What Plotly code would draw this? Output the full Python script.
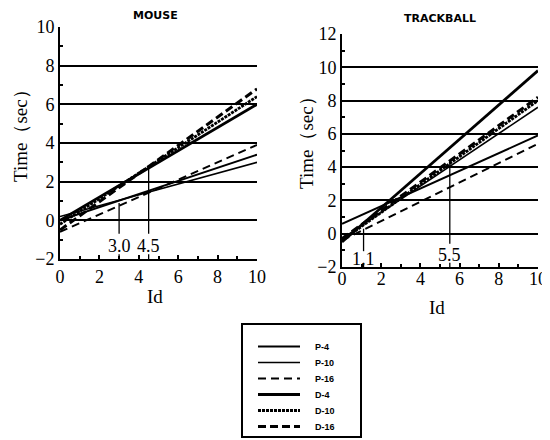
import plotly.graph_objects as go

# ---------------- data ----------------
id_ends = [0, 10]
series_names = ["P-4", "P-10", "P-16", "D-4", "D-10", "D-16"]

# time (sec) at Id = 0 and Id = 10
mouse_p4 = [0.0, 3.4]
mouse_p10 = [0.2, 3.0]
mouse_p16 = [-0.6, 3.9]
mouse_d4 = [0.0, 6.0]
mouse_d10 = [-0.2, 6.4]
mouse_d16 = [-0.5, 6.8]

track_p4 = [0.6, 5.9]
track_p10 = [-0.3, 7.6]
track_p16 = [-0.4, 5.4]
track_d4 = [-0.5, 9.8]
track_d10 = [-0.4, 8.0]
track_d16 = [-0.3, 8.2]

# intersection markers
mouse_mark_x = [3.0, 4.5]
mouse_mark_top = [0.9, 2.7]
mouse_mark_bottom = [-0.7, -0.7]
mouse_mark_label_y = [-1.35, -1.35]
mouse_mark_text = ["3.0", "4.5"]

track_mark_x = [1.1, 5.5]
track_mark_top = [0.3, 4.4]
track_mark_bottom = [-1.05, -0.6]
track_mark_label_y = [-1.5, -1.3]
track_mark_text = ["1.1", "5.5"]

mouse_ticks = [-2, 0, 2, 4, 6, 8, 10]
track_ticks = [-2, 0, 2, 4, 6, 8, 10, 12]
x_ticks = [0, 2, 4, 6, 8, 10]

# ---------------- styles ----------------
styles = {
    "P-4": dict(color="black", width=2.0, dash="solid"),
    "P-10": dict(color="black", width=1.6, dash="solid"),
    "P-16": dict(color="black", width=2.0, dash="8px,5px"),
    "D-4": dict(color="black", width=2.8, dash="solid"),
    "D-10": dict(color="black", width=2.8, dash="3px,1px"),
    "D-16": dict(color="black", width=3.0, dash="8px,4px"),
}

# the page body has an 8px margin; size the figure so it fits the window
PAGE_OFF = 8
W, H = 550 - PAGE_OFF, 440 - PAGE_OFF


def px_x(v):
    return (v - PAGE_OFF) / W


def px_y(v):
    return 1 - (v - PAGE_OFF) / H


mouse_series = [mouse_p4, mouse_p10, mouse_p16, mouse_d4, mouse_d10, mouse_d16]
track_series = [track_p4, track_p10, track_p16, track_d4, track_d10, track_d16]

fig = go.Figure()

for name, ys in zip(series_names, mouse_series):
    fig.add_trace(go.Scatter(x=id_ends, y=ys, mode="lines", name=name,
                             line=styles[name], xaxis="x", yaxis="y",
                             showlegend=False))
for name, ys in zip(series_names, track_series):
    fig.add_trace(go.Scatter(x=id_ends, y=ys, mode="lines", name=name,
                             line=styles[name], xaxis="x2", yaxis="y2",
                             showlegend=False))


def marker_trace(xs, tops, bottoms, xa, ya):
    px, py = [], []
    for x, t, b in zip(xs, tops, bottoms):
        px += [x, x, None, x, x, None]
        py += [t, b, None, -2.0, -1.75, None]
    return go.Scatter(x=px, y=py, mode="lines", line=dict(color="black", width=1.3),
                      xaxis=xa, yaxis=ya, showlegend=False, hoverinfo="skip")


fig.add_trace(marker_trace(mouse_mark_x, mouse_mark_top, mouse_mark_bottom, "x", "y"))
fig.add_trace(marker_trace(track_mark_x, track_mark_top, track_mark_bottom, "x2", "y2"))

serif = "Liberation Serif"
annotations = []
for x, y, t in zip(mouse_mark_x, mouse_mark_label_y, mouse_mark_text):
    annotations.append(dict(x=x, y=y, xref="x", yref="y", text=t, showarrow=False,
                            xanchor="center", yanchor="middle",
                            font=dict(family=serif, size=18, color="black")))
for x, y, t in zip(track_mark_x, track_mark_label_y, track_mark_text):
    annotations.append(dict(x=x, y=y, xref="x2", yref="y2", text=t, showarrow=False,
                            xanchor="center", yanchor="middle",
                            font=dict(family=serif, size=18, color="black")))


def paper_text(xp, yp, text, size, family, angle=0):
    return dict(x=px_x(xp), y=px_y(yp), xref="paper", yref="paper", text=text,
                showarrow=False, xanchor="center", yanchor="middle",
                textangle=angle, font=dict(family=family, size=size, color="black"))


# titles
annotations.append(paper_text(155, 16, "<b>MOUSE</b>", 11, "DejaVu Sans"))
annotations.append(paper_text(440, 19, "<b>TRACKBALL</b>", 11, "DejaVu Sans"))
# y-axis titles
annotations.append(paper_text(20, 131, "Time（sec）", 19, serif, -90))
annotations.append(paper_text(306, 138, "Time（sec）", 19, serif, -90))
# x-axis titles
annotations.append(paper_text(155, 296, "Id", 19, serif))
annotations.append(paper_text(437, 307, "Id", 19, serif))

# ---------------- legend (drawn as a keyed box) ----------------
shapes = [dict(type="rect", xref="paper", yref="paper",
               x0=px_x(242), x1=px_x(361), y0=px_y(437), y1=px_y(324),
               line=dict(color="black", width=2), fillcolor="white")]
for i, name in enumerate(series_names):
    yy = 346.5 + 16 * i
    st = styles[name]
    shapes.append(dict(type="line", xref="paper", yref="paper",
                       x0=px_x(258), x1=px_x(300), y0=px_y(yy), y1=px_y(yy),
                       line=dict(color=st["color"], width=st["width"], dash=st["dash"])))
    annotations.append(dict(x=px_x(313), y=px_y(yy), xref="paper", yref="paper",
                            text="<b>%s</b>" % name, showarrow=False,
                            xanchor="left", yanchor="middle",
                            font=dict(family="Liberation Sans", size=9, color="black")))

xcommon = dict(range=[0, 10], tickvals=x_ticks, ticks="inside", ticklen=4,
               tickwidth=1.5, tickcolor="black", showline=True, linecolor="black",
               linewidth=2, showgrid=False, zeroline=False, automargin=False,
               minor=dict(dtick=1, ticks="inside", ticklen=3, tickcolor="black",
                          tickwidth=1.5),
               tickfont=dict(family=serif, size=18, color="black"))
ycommon = dict(ticks="inside", ticklen=4, tickwidth=1.5, tickcolor="black",
               showline=True, linecolor="black", linewidth=2, automargin=False,
               showgrid=True, gridcolor="black", gridwidth=1.5, zeroline=False,
               minor=dict(dtick=1, ticks="inside", ticklen=3, tickcolor="black",
                          tickwidth=1.5, showgrid=False),
               tickfont=dict(family=serif, size=18, color="black"))

fig.update_layout(
    width=W, height=H,
    margin=dict(l=0, r=0, t=0, b=0, autoexpand=False),
    paper_bgcolor="white", plot_bgcolor="white",
    xaxis=dict(domain=[px_x(60), px_x(257)], anchor="y", **xcommon),
    yaxis=dict(domain=[px_y(259), px_y(27)], anchor="x",
               range=[-2, 10], tickvals=mouse_ticks, **ycommon),
    xaxis2=dict(domain=[px_x(342), px_x(538)], anchor="y2",
                ticklabelstandoff=-6, **xcommon),
    yaxis2=dict(domain=[px_y(267), px_y(34)], anchor="x2",
                range=[-2, 12], tickvals=track_ticks, **ycommon),
    annotations=annotations,
    shapes=shapes,
    showlegend=False,
)

fig.write_html("out.html")
